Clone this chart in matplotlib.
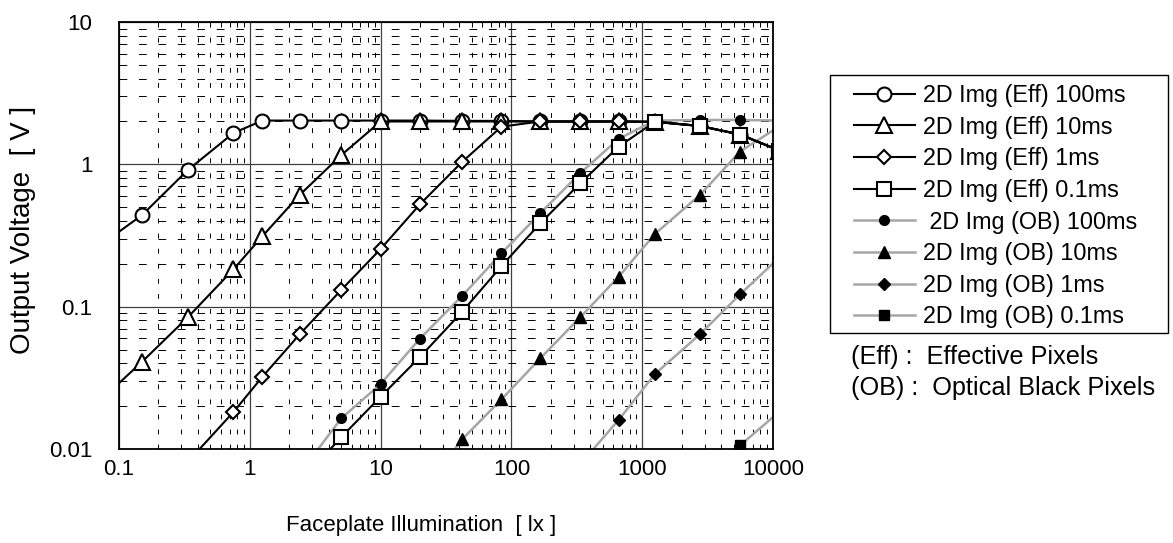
import numpy as np
import matplotlib.pyplot as plt
from matplotlib.patches import Rectangle
from matplotlib.ticker import LogLocator, NullFormatter

plt.rcParams['font.family'] = ['Liberation Sans', 'DejaVu Sans']

nan = np.nan

# faceplate illumination [lx] (first/last points lie outside the axes)
lux = [0.07, 0.15, 0.335, 0.75, 1.25, 2.4, 5.0, 10, 20, 42, 84, 166, 335,
       660, 1250, 2760, 5600, 11200]

# output voltage [V], effective pixels
eff_100ms = [0.265, 0.44, 0.91, 1.66, 2.03, 2.03, 2.03, 2.03, 2.03, 2.02,
             2.02, 2.0, 2.0, 2.0, 1.99, 1.86, 1.62, 1.25]
eff_10ms = [0.0214, 0.041, 0.084, 0.183, 0.313, 0.608, 1.16, 2.0, 2.0, 2.0,
            2.0, 2.0, 2.0, 2.0, 1.99, 1.86, 1.62, 1.25]
eff_1ms = [nan, nan, 0.0081, 0.0182, 0.0322, 0.0638, 0.131, 0.254, 0.524,
           1.04, 1.84, 2.0, 2.0, 2.0, 1.99, 1.86, 1.62, 1.25]
eff_01ms = [nan, nan, nan, nan, nan, 0.0058, 0.0121, 0.0233, 0.0443, 0.092,
            0.193, 0.385, 0.735, 1.33, 1.99, 1.86, 1.62, 1.25]

# output voltage [V], optical black pixels
ob_100ms = [nan, nan, nan, nan, nan, 0.0067, 0.0164, 0.0286, 0.0597, 0.119,
            0.237, 0.453, 0.865, 1.51, 2.03, 2.05, 2.05, 2.03]
ob_10ms = [nan, nan, nan, nan, nan, nan, nan, nan, 0.0047, 0.0117, 0.0223,
           0.0433, 0.084, 0.162, 0.324, 0.609, 1.23, 1.85]
ob_1ms = [nan, nan, nan, nan, nan, nan, nan, nan, nan, nan, nan, nan,
          0.0078, 0.016, 0.0336, 0.0639, 0.122, 0.222]
ob_01ms = [nan, nan, nan, nan, nan, nan, nan, nan, nan, nan, nan, nan,
           nan, nan, nan, 0.0057, 0.0106, 0.0183]

xticks = [0.1, 1, 10, 100, 1000, 10000]
xticklabels = ['0.1', '1', '10', '100', '1000', '10000']
yticks = [0.01, 0.1, 1, 10]
yticklabels = ['0.01', '0.1', '1', '10']

W, H = 1173, 543
fs = 16        # tick labels / x label
fs_leg = 16.8  # legend
fs_note = 18.2 # notes under the legend
fig = plt.figure(figsize=(W/100, H/100), dpi=100)
ax = fig.add_axes([119/W, 1-449/H, 654/W, 427/H])

gray = '#a6a6a6'
# OB curves first (they sit underneath)
ob = []
for y, m, ms, lab in [(ob_100ms, 'o', 7, ' 2D Img (OB) 100ms'),
                      (ob_10ms, '^', 9, '2D Img (OB) 10ms'),
                      (ob_1ms, 'D', 6, '2D Img (OB) 1ms'),
                      (ob_01ms, 's', 7.5, '2D Img (OB) 0.1ms')]:
    l, = ax.plot(lux, y, color=gray, lw=1.8, marker=m, ms=ms,
                 mfc='black', mec='black', label=lab)
    ob.append(l)

eff = []
for y, m, ms, lab in [(eff_100ms, 'o', 10, '2D Img (Eff) 100ms'),
                      (eff_10ms, '^', 11, '2D Img (Eff) 10ms'),
                      (eff_1ms, 'D', 7.5, '2D Img (Eff) 1ms'),
                      (eff_01ms, 's', 9.5, '2D Img (Eff) 0.1ms')]:
    l, = ax.plot(lux, y, color='black', lw=1.5, marker=m, ms=ms,
                 mfc='white', mec='black', mew=1.5, label=lab)
    eff.append(l)

ax.set_xscale('log')
ax.set_yscale('log')
ax.set_xlim(0.1, 10000)
ax.set_ylim(0.01, 10)
ax.set_xticks(xticks, labels=xticklabels)
ax.set_yticks(yticks, labels=yticklabels)
ax.xaxis.set_minor_locator(LogLocator(base=10, subs=range(2, 10)))
ax.yaxis.set_minor_locator(LogLocator(base=10, subs=range(2, 10)))
ax.xaxis.set_minor_formatter(NullFormatter())
ax.yaxis.set_minor_formatter(NullFormatter())
ax.tick_params(which='both', length=0, labelsize=fs)
ax.tick_params(axis='y', pad=19)
ax.tick_params(axis='x', pad=7)

ax.grid(which='major', color='#404040', lw=0.9, ls='-')
ax.xaxis.grid(which='minor', color='black', lw=0.7, ls=(0, (5, 10.5)))
ax.yaxis.grid(which='minor', color='black', lw=0.7, ls=(0, (8, 12)))
ax.set_axisbelow(True)
for s in ax.spines.values():
    s.set_linewidth(1.3)
    s.set_color('black')

ax.set_xlabel('Faceplate Illumination  [ lx ]', fontsize=fs, va='center')
ax.xaxis.set_label_coords((421-119)/654, -(525-449)/427)
ax.set_ylabel('Output Voltage  [ V ]', fontsize=20, va='center')
ax.yaxis.set_label_coords(-(119-23)/654, (449-230)/427)

# legend box drawn separately so the padding matches
fig.patches.append(Rectangle((830/W, 1-333/H), 338/W, 258/H,
                             transform=fig.transFigure, fill=False,
                             edgecolor='black', lw=1.0))
handles = eff + ob
leg = fig.legend(handles, [h.get_label() for h in handles],
                 loc='upper left', bbox_to_anchor=(854/W, 1-84/H),
                 fontsize=fs_leg, frameon=False, borderaxespad=0,
                 borderpad=0, handlelength=2.6, handletextpad=0.34,
                 labelspacing=0.37)

fig.text(851/W, 1-357/H, '(Eff) :  Effective Pixels', fontsize=fs_note,
         va='center', ha='left')
fig.text(851/W, 1-388/H, '(OB) :  Optical Black Pixels', fontsize=fs_note,
         va='center', ha='left')

fig.savefig('out.png', dpi=100)
